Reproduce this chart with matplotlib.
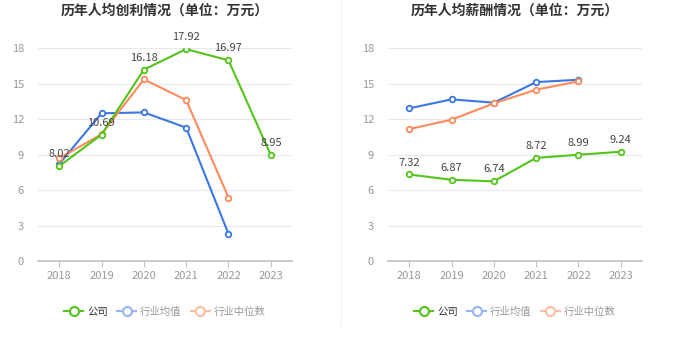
import numpy as np
import matplotlib.pyplot as plt
import matplotlib

matplotlib.rcParams['font.family'] = ['Noto Sans CJK SC', 'DejaVu Sans']

years = ['2018', '2019', '2020', '2021', '2022', '2023']

# 人均创利
profit_company = [8.02, 10.69, 16.18, 17.92, 16.97, 8.95]
profit_avg = [8.2, 12.49, 12.57, 11.28, 2.3]
profit_median = [8.69, 10.72, 15.36, 13.61, 5.37]

# 人均薪酬
salary_company = [7.32, 6.87, 6.74, 8.72, 8.99, 9.24]
salary_avg = [12.91, 13.67, 13.39, 15.13, 15.33]
salary_median = [11.16, 11.95, 13.33, 14.49, 15.19]

GREEN = '#52c41a'
BLUE = '#3a78e8'
ORANGE = '#ff8a5c'


def draw_panel(ax, title, company, avg, median):
    x = np.arange(len(years))
    ax.plot(x[:len(avg)], avg, color=BLUE, lw=1.5, marker='o', ms=4,
            mfc='white', mew=1.3, zorder=3)
    ax.plot(x[:len(median)], median, color=ORANGE, lw=1.5, marker='o', ms=4,
            mfc='white', mew=1.3, zorder=3)
    ax.plot(x, company, color=GREEN, lw=1.5, marker='o', ms=4,
            mfc='white', mew=1.3, zorder=4)
    for xi, v in zip(x, company):
        ax.annotate(f'{v:.2f}', (xi, v), xytext=(0, 5), textcoords='offset points',
                    ha='center', va='bottom', fontsize=8, color='#444444', zorder=5)

    ax.set_xlim(-0.5, len(years) - 0.5)
    ax.set_ylim(0, 18)
    ax.set_yticks([0, 3, 6, 9, 12, 15, 18])
    ax.set_xticks(x)
    ax.set_xticklabels(years)
    ax.grid(axis='y', color='#e6e9f2', lw=0.8)
    ax.set_axisbelow(True)
    for s in ['top', 'right', 'left']:
        ax.spines[s].set_visible(False)
    ax.spines['bottom'].set_color('#c0c0c8')
    ax.spines['bottom'].set_linewidth(1.2)
    ax.tick_params(axis='y', length=0, labelsize=8, colors='#999999', pad=10)
    ax.tick_params(axis='x', length=4, color='#c0c0c8', labelsize=8,
                   labelcolor='#999999', pad=3)
    ax.set_title(title, fontsize=10, fontweight='bold', color='#333333', pad=24)


fig = plt.figure(figsize=(6.8, 3.49), dpi=100)
ax1 = fig.add_axes([0.0559, 0.252, 0.3735, 0.610])
ax2 = fig.add_axes([0.5706, 0.252, 0.3735, 0.610])

draw_panel(ax1, '历年人均创利情况（单位：万元）', profit_company, profit_avg, profit_median)
draw_panel(ax2, '历年人均薪酬情况（单位：万元）', salary_company, salary_avg, salary_median)

# divider between panels
fig.add_artist(plt.Line2D([0.502, 0.502], [0.07, 1.0], color='#f0f0f0', lw=1))

# legends
legend_items = [('公司', GREEN, '#333333'),
                ('行业均值', '#94b6f2', '#999999'),
                ('行业中位数', '#ffbda3', '#999999')]
for ax in (ax1, ax2):
    handles = [plt.Line2D([], [], color=c, lw=1.5, marker='o', ms=6.5, mfc='white', mew=1.5)
               for _, c, _ in legend_items]
    leg = ax.legend(handles, [n for n, _, _ in legend_items], loc='upper center',
                    bbox_to_anchor=(0.5, -0.17), ncol=3, frameon=False, fontsize=7.5,
                    handlelength=1.8, columnspacing=0.9, handletextpad=0.4)
    for t, (_, _, tc) in zip(leg.get_texts(), legend_items):
        t.set_color(tc)

fig.savefig('out.png', dpi=100)
